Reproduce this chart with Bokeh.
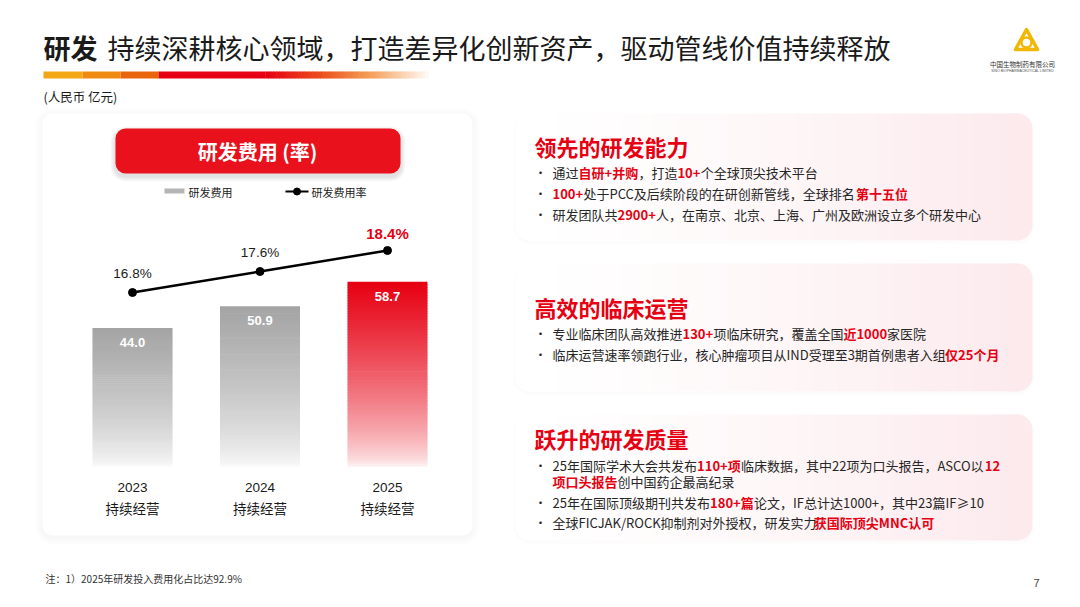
import numpy as np
from bokeh.plotting import figure
from bokeh.models import Range1d, BoxAnnotation
from bokeh.core.properties import value
from bokeh.embed import file_html
from bokeh.resources import INLINE

# ---------------- data ----------------
years = [2023, 2024, 2025]
year_labels = ["2023", "2024", "2025"]
period_labels = ["持续经营", "持续经营", "持续经营"]
rd_expense = [44.0, 50.9, 58.7]
rd_rate = [16.8, 17.6, 18.4]
rate_labels = ["16.8%", "17.6%", "18.4%"]

title_bold = "研发"
title_rest = "持续深耕核心领域，打造差异化创新资产，驱动管线价值持续释放"
unit_text = "(人民币 亿元)"
chart_title = "研发费用 (率)"
legend_bar = "研发费用"
legend_line = "研发费用率"
footnote = "注：1）2025年研发投入费用化占比达92.9%"
page_no = "7"

panel_heads = ["领先的研发能力", "高效的临床运营", "跃升的研发质量"]
panel1 = [
    [("通过", 0), ("自研+并购", 1), ("，打造", 0), ("10+", 1), ("个全球顶尖技术平台", 0)],
    [("100+", 1), ("处于PCC及后续阶段的在研创新管线，全球排名", 0), ("第十五位", 1)],
    [("研发团队共", 0), ("2900+", 1), ("人，在南京、北京、上海、广州及欧洲设立多个研发中心", 0)],
]
panel2 = [
    [("专业临床团队高效推进", 0), ("130+", 1), ("项临床研究，覆盖全国", 0), ("近1000", 1), ("家医院", 0)],
    [("临床运营速率领跑行业，核心肿瘤项目从IND受理至3期首例患者入组", 0), ("仅25个月", 1)],
]
panel3 = [
    [("25年国际学术大会共发布", 0), ("110+项", 1), ("临床数据，其中22项为口头报告，ASCO以", 0), ("12", 1)],
    [("项口头报告", 1), ("创中国药企最高纪录", 0)],
    [("25年在国际顶级期刊共发布", 0), ("180+篇", 1), ("论文，IF总计达1000+，其中23篇IF≥10", 0)],
    [("全球FICJAK/ROCK抑制剂对外授权，研发实力", 0), ("获国际顶尖MNC认可", 1)],
]

# ---------------- figure ----------------
W, H = 1064, 591
def Y(py):
    return H - py

p = figure(width=W, height=H, x_range=Range1d(0, W), y_range=Range1d(0, H),
           output_backend="svg", toolbar_location=None, min_border=0,
           x_axis_location=None, y_axis_location=None)
p.grid.visible = False
p.outline_line_color = None
p.background_fill_color = "white"

CJK = value("Noto Sans CJK SC")
ARIAL = value("Liberation Sans")

# chart scales (extra ranges mapped onto page positions)
x_c0, x_c2 = 132.0, 387.0
ppy = (x_c2 - x_c0) / (years[2] - years[0])
p.extra_x_ranges = {"yr": Range1d(years[0] - x_c0 / ppy, years[0] + (W - x_c0) / ppy)}
base_py, top_py = 466.0, 282.0
ppv = (base_py - top_py) / max(rd_expense)
p.extra_y_ranges = {
    "val": Range1d(-(H - base_py) / ppv, base_py / ppv),
}
r_py0, r_py2 = 292.0, 250.0
ppr = (r_py0 - r_py2) / (rd_rate[2] - rd_rate[0])
p.extra_y_ranges["rate"] = Range1d(rd_rate[0] - (H - r_py0) / ppr, rd_rate[0] + r_py0 / ppr)

def hexc(c):
    return "#%02x%02x%02x" % tuple(int(round(v)) for v in c)

def mix(c1, c2, t):
    return tuple(a + (b - a) * t for a, b in zip(c1, c2))

# ---------------- title ----------------
p.text(x=[43], y=[Y(47)], text=[title_bold], text_font=CJK, text_font_style="bold",
       text_font_size="27px", text_color="#1a1a1a", text_baseline="middle", text_align="left")
p.text(x=[107], y=[Y(47)], text=[title_rest], text_font=CJK,
       text_font_size="27px", text_color="#1a1a1a", text_baseline="middle", text_align="left")

# decorative bar
seg_l = [43, 82, 120, 158]
seg_r = [82, 120, 158, 265]
seg_c = ["#f4a714", "#ef8b12", "#e8650d", "#e50012"]
p.quad(left=seg_l, right=seg_r, top=[Y(71)] * 4, bottom=[Y(78)] * 4, fill_color=seg_c, line_color=None)
stops = [(0.0, (229, 0, 18)), (0.35, (236, 80, 30)), (0.65, (244, 160, 90)), (1.0, (255, 250, 245))]
gx = np.linspace(265, 428, 60)
gl, gr, gc = [], [], []
for i in range(len(gx) - 1):
    t = (i + 0.5) / (len(gx) - 1)
    for (t0, c0), (t1, c1) in zip(stops[:-1], stops[1:]):
        if t0 <= t <= t1:
            gc.append(hexc(mix(c0, c1, (t - t0) / (t1 - t0))))
            break
    gl.append(gx[i] - 0.3)
    gr.append(gx[i + 1] + 0.3)
p.quad(left=gl, right=gr, top=[Y(71)] * len(gl), bottom=[Y(78)] * len(gl), fill_color=gc, line_color=None)

p.text(x=[43], y=[Y(96)], text=[unit_text], text_font=CJK, text_font_size="12.5px",
       text_color="#1a1a1a", text_baseline="middle")

# logo
p.patch(x=[1026, 1015, 1037], y=[Y(29), Y(49), Y(49)], fill_color=None, line_color="#f2b705",
        line_width=3.5, line_join="round")
p.scatter(x=[1026], y=[Y(42)], size=10, marker="circle", fill_color=None, line_color="#f2b705", line_width=2.5)
p.text(x=[1022], y=[Y(63)], text=["中国生物制药有限公司"], text_font=CJK, text_font_size="6.5px",
       text_color="#333333", text_baseline="middle", text_align="center")
p.text(x=[1022], y=[Y(70)], text=["SINO BIOPHARMACEUTICAL LIMITED"], text_font=ARIAL, text_font_size="3.5px",
       text_color="#555555", text_baseline="middle", text_align="center")

# ---------------- left card ----------------
def rbox(l, r, t, b, color, alpha=1.0, radius=10, line=None):
    bx = BoxAnnotation(left=l, right=r, top=Y(t), bottom=Y(b), fill_color=color, fill_alpha=alpha,
                       line_color=line, border_radius=radius, level="underlay")
    p.add_layout(bx)

for k in range(8, 0, -1):
    rbox(42 - k, 472 + k, 113 - k + 2, 535 + k + 2, "black", 0.005, 10 + k)
rbox(42, 472, 113, 535, "white", 1.0, 10)

# red button with shadow
for k in range(5, 0, -1):
    rbox(115 - k, 400 + k, 128 - k + 3, 173 + k + 3, "black", 0.022, 10 + k)
rbox(115, 400, 128, 173, "#e8111c", 1.0, 10)
p.text(x=[257], y=[Y(151)], text=[chart_title], text_font=CJK, text_font_style="bold",
       text_font_size="20px", text_color="white", text_baseline="middle", text_align="center")

# legend
p.quad(left=[164], right=[184], top=[Y(188)], bottom=[Y(193)], fill_color="#b5b5b5", line_color=None)
p.text(x=[188], y=[Y(191)], text=[legend_bar], text_font=CJK, text_font_size="11px",
       text_color="#1a1a1a", text_baseline="middle")
p.line(x=[285, 308], y=[Y(191), Y(191)], line_color="black", line_width=2)
p.scatter(x=[296.5], y=[Y(191)], size=7, marker="circle", fill_color="black", line_color="black")
p.text(x=[311], y=[Y(191)], text=[legend_line], text_font=CJK, text_font_size="11px",
       text_color="#1a1a1a", text_baseline="middle")

# gradient bars
N = 70
bx_, bb_, bt_, bc_ = [], [], [], []
bar_base = [(164, 164, 164), (164, 164, 164), (230, 0, 18)]
for yr, v, c in zip(years, rd_expense, bar_base):
    for i in range(N):
        t = (i + 0.5) / N
        a = 0.04 + 0.96 * t ** 0.7
        bx_.append(yr)
        bb_.append(v * i / N)
        bt_.append(v * (i + 1) / N + v * 0.004)
        bc_.append(hexc(mix((255, 255, 255), c, a)))
p.vbar(x=bx_, bottom=bb_, top=bt_, width=80 / ppy, fill_color=bc_, line_color=None,
       x_range_name="yr", y_range_name="val")

p.text(x=years, y=rd_expense, text=["%.1f" % v for v in rd_expense], y_offset=14,
       text_font=ARIAL, text_font_style="bold", text_font_size="13px", text_color="white",
       text_align="center", text_baseline="middle", x_range_name="yr", y_range_name="val")

p.text(x=years, y=[0, 0, 0], text=year_labels, y_offset=21, text_font=ARIAL, text_font_size="13.5px",
       text_color="#1a1a1a", text_align="center", text_baseline="middle", x_range_name="yr", y_range_name="val")
p.text(x=years, y=[0, 0, 0], text=period_labels, y_offset=41, text_font=CJK, text_font_size="13.5px",
       text_color="#1a1a1a", text_align="center", text_baseline="middle", x_range_name="yr", y_range_name="val")

# rate line
p.line(x=years, y=rd_rate, line_color="black", line_width=2.5, x_range_name="yr", y_range_name="rate")
p.scatter(x=years, y=rd_rate, size=8, marker="circle", fill_color="black", line_color="black",
          x_range_name="yr", y_range_name="rate")
p.text(x=years[:2], y=rd_rate[:2], text=rate_labels[:2], y_offset=-19, text_font=ARIAL,
       text_font_size="13.5px", text_color="#1a1a1a", text_align="center", text_baseline="middle",
       x_range_name="yr", y_range_name="rate")
p.text(x=years[2:], y=rd_rate[2:], text=rate_labels[2:], y_offset=-17, text_font=ARIAL, text_font_style="bold",
       text_font_size="15px", text_color="#e60012", text_align="center", text_baseline="middle",
       x_range_name="yr", y_range_name="rate")

# ---------------- right panels ----------------
PL, PR, RAD = 515, 1032, 15
panel_y = [(113, 240), (263, 391), (414, 540)]
left_col = (255, 255, 255)
right_col = (252, 234, 237)
sl, sr, st, sb, sc = [], [], [], [], []
for (t, b) in panel_y:
    for k in range(3, 0, -1):
        rbox(PL - k, PR + k, t - k + 2, b + k + 2, "black", 0.005, RAD + k)
    rbox(PL, PR, t, b, hexc(left_col), 1.0, RAD)
    rbox(PR - 2 * RAD - 6, PR, t, b, hexc(right_col), 1.0, RAD)
    xs = np.linspace(PL + RAD, PR - RAD, 80)
    for i in range(len(xs) - 1):
        tt = ((i + 0.5) / (len(xs) - 1)) ** 1.3
        sl.append(xs[i] - 0.3)
        sr.append(xs[i + 1] + 0.3)
        st.append(Y(t))
        sb.append(Y(b))
        sc.append(hexc(mix(left_col, right_col, tt)))
p.quad(left=sl, right=sr, top=st, bottom=sb, fill_color=sc, line_color=None)

def tw(s, f, bold=False):
    w = 0.0
    for ch in s:
        o = ord(ch)
        if o >= 0x2E80 or ch == "≥":
            w += f
        elif ch.isdigit():
            w += 0.56 * f
        elif ch == "+":
            w += 0.58 * f
        elif ch == "/":
            w += 0.38 * f
        elif ch == "I":
            w += 0.28 * f
        elif ch == "J":
            w += 0.33 * f
        elif ch == "M":
            w += 0.88 * f
        elif ch in "OQ":
            w += 0.75 * f
        elif ch in "CDNGH":
            w += 0.68 * f
        elif ch.isupper():
            w += 0.6 * f
        else:
            w += 0.5 * f
        if bold and o < 0x2E80:
            w += 0.03 * f
    return w

FS = 13
nx, ny, nt, hx, hy, ht = [], [], [], [], [], []
def rich(x0, py, segs):
    x = x0
    for s, h in segs:
        if h:
            hx.append(x); hy.append(Y(py)); ht.append(s)
        else:
            nx.append(x); ny.append(Y(py)); nt.append(s)
        x += tw(s, FS, bool(h))

bul_x, bul_y = [], []
head_y = [145, 306, 437]
p.text(x=[534] * 3, y=[Y(v) for v in head_y], text=panel_heads, text_font=CJK, text_font_style="bold",
       text_font_size="22px", text_color="#e60012", text_baseline="middle", text_align="left")

TX = 552
for segs, py in zip(panel1, [172, 193, 214]):
    rich(TX, py, segs); bul_x.append(540); bul_y.append(Y(py))
for segs, py in zip(panel2, [333, 354]):
    rich(TX, py, segs); bul_x.append(540); bul_y.append(Y(py))
for i, (segs, py) in enumerate(zip(panel3, [465, 481, 502, 522])):
    rich(TX, py, segs)
    if i != 1:
        bul_x.append(540); bul_y.append(Y(py))

p.text(x=nx, y=ny, text=nt, text_font=CJK, text_font_size="%dpx" % FS, text_color="#262626",
       text_baseline="middle", text_align="left")
p.text(x=hx, y=hy, text=ht, text_font=CJK, text_font_style="bold", text_font_size="%dpx" % FS,
       text_color="#e60012", text_baseline="middle", text_align="left")
p.text(x=bul_x, y=bul_y, text=["•"] * len(bul_x), text_font=CJK, text_font_size="12px",
       text_color="#262626", text_baseline="middle", text_align="center")

# footnote & page number
p.text(x=[45], y=[Y(578)], text=[footnote], text_font=CJK, text_font_size="10px", text_color="#333333",
       text_baseline="middle")
p.text(x=[1036], y=[Y(582)], text=[page_no], text_font=ARIAL, text_font_size="11px", text_color="#444444",
       text_baseline="middle", text_align="center")

open("out.html", "w").write(file_html(p, INLINE))
